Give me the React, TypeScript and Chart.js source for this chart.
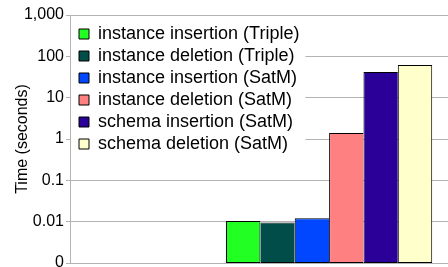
import React, { useEffect, useRef } from 'react';
import { Chart, registerables } from 'chart.js';

Chart.register(...registerables);

const seriesNames = [
  'instance insertion (Triple)',
  'instance deletion (Triple)',
  'instance insertion (SatM)',
  'instance deletion (SatM)',
  'schema insertion (SatM)',
  'schema deletion (SatM)',
];
const seriesValues = [0.0104, 0.0095, 0.0121, 1.4, 42, 62];
const seriesColors = ['#22ff22', '#004d4a', '#0047ff', '#ff8080', '#2a0099', '#ffffcc'];
const yTickValues = [0.001, 0.01, 0.1, 1, 10, 100, 1000];
const yTickLabels = ['0', '0.01', '0.1', '1', '10', '100', '1,000'];
const yAxisTitle = 'Time (seconds)';

const FONT = "'Liberation Sans', Arial, sans-serif";

const edgeWidths = (i: number) => {
  const n = seriesValues.length;
  return {
    top: 1,
    bottom: 1,
    left: i === 0 || seriesValues[i - 1] < seriesValues[i] ? 1 : 0,
    right: i === n - 1 || seriesValues[i + 1] <= seriesValues[i] ? 1 : 0,
  };
};

const LEG_DX = 5;
const LEG_DY = 21;

const legendBgPlugin = {
  id: 'legendBg',
  afterLayout(chart: any) {
    const lg: any = chart.legend;
    if (!lg || lg._bgPatched) return;
    const protoDraw = Object.getPrototypeOf(lg).draw;
    lg.draw = function (...args: any[]) {
      const ctx = chart.ctx;
      const opts = this.options.labels;
      const pad = opts.padding;
      const fontSize = opts.font.size;
      const itemH = Math.max(fontSize, opts.boxHeight);
      const boxes = this.legendHitBoxes || [];
      const maxW = boxes.reduce((m: number, b: any) => Math.max(m, b.width), 0);
      const n = (this.legendItems || []).length;
      const top0 = boxes.length ? boxes[0].top : this.top + pad;
      ctx.save();
      ctx.fillStyle = '#ffffff';
      const x0 = chart.chartArea.left + 1;
      const x1 = this.left + pad + LEG_DX + maxW + 6;
      const y0 = top0 + LEG_DY - 8;
      const y1 = top0 + LEG_DY + n * (itemH + pad) + 6;
      ctx.fillRect(x0, y0, x1 - x0, y1 - y0);
      ctx.translate(LEG_DX, LEG_DY);
      protoDraw.apply(this, args);
      ctx.restore();
    };
    lg._bgPatched = true;
  },
};

export default function App() {
  const canvasRef = useRef<HTMLCanvasElement | null>(null);

  useEffect(() => {
    document.body.style.margin = '0';
    const canvas = canvasRef.current;
    if (!canvas) return;
    const defGen = (Chart.defaults as any).plugins.legend.labels.generateLabels;
    const chart = new Chart(canvas, {
      type: 'bar',
      data: {
        datasets: seriesNames.map((name, i) => ({
          label: name,
          data: [{ x: i + 1, y: seriesValues[i] }],
          backgroundColor: seriesColors[i],
          borderColor: '#000000',
          borderWidth: edgeWidths(i),
          borderSkipped: false,
          inflateAmount: 0,
          grouped: false,
          barPercentage: 1,
          categoryPercentage: 1,
        })) as any,
      },
      options: {
        animation: false,
        responsive: false,
        layout: { padding: { top: 15, bottom: 4, left: 0, right: 0 } },
        scales: {
          x: {
            type: 'linear',
            display: false,
            offset: false,
            min: -4.04,
            max: 6.96,
            afterBuildTicks: (s: any) => {
              s.ticks = seriesNames.map((_, i) => ({ value: i + 1 }));
            },
          },
          y: {
            type: 'logarithmic',
            min: yTickValues[0],
            max: yTickValues[yTickValues.length - 1],
            afterBuildTicks: (s: any) => {
              s.ticks = yTickValues.map((v) => ({ value: v }));
            },
            afterFit: (s: any) => {
              s.width = 70;
              s.paddingTop = 0;
              s.paddingBottom = 0;
            },
            ticks: {
              autoSkip: false,
              padding: 2,
              color: '#000000',
              font: { size: 16, family: FONT },
              callback: (_v: any, i: number) => yTickLabels[i],
            },
            grid: { color: '#b3b3b3', tickLength: 4 },
            border: { color: '#b3b3b3' },
            title: {
              display: true,
              text: yAxisTitle,
              color: '#000000',
              font: { size: 16, family: FONT },
              padding: { top: 13, bottom: 0 },
            },
          },
        },
        plugins: {
          tooltip: { enabled: false },
          legend: {
            position: 'chartArea' as any,
            align: 'start',
            labels: {
              boxWidth: 10,
              boxHeight: 10,
              padding: 4,
              color: '#000000',
              font: { size: 18, family: FONT },
              generateLabels: (c: any) =>
                defGen(c).map((l: any) => ({ ...l, lineWidth: 1, strokeStyle: '#000000' })),
            },
          },
        },
      } as any,
      plugins: [legendBgPlugin],
    });
    return () => chart.destroy();
  }, []);

  return (
    <div style={{ width: 448, height: 267, background: '#ffffff' }}>
      <canvas ref={canvasRef} width={448} height={267} style={{ display: 'block' }} />
    </div>
  );
}
